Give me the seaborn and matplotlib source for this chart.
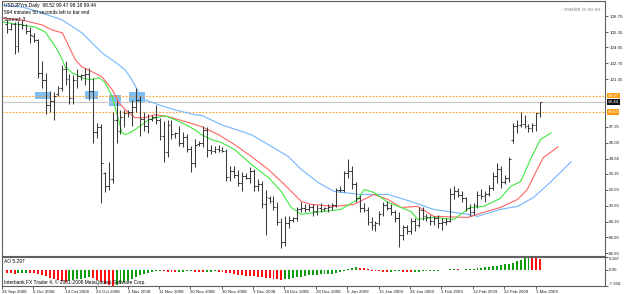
import numpy as np
import pandas as pd
import matplotlib
matplotlib.use('Agg')
import matplotlib.pyplot as plt
import seaborn as sns
from matplotlib import font_manager

"""USDJPY daily bars with alligator lines and the awesome oscillator, MT4 look"""

header_lines = ['USDJPYm,Daily  98.52 99.47 98.18 99.44',
                '594 minutes 50 seconds left to bar end',
                'Spread: 3']
mood_text = '- market is so-so -'
ao_title = 'AO 5.297'
footer_text = 'Interbank FX Trader 4, \u00a9 2001-2008 MetaQuotes Software Corp.'

bar_open = [106.0, 105.6, 106.0, 104.2, 106.0, 105.9, 105.4, 105.0, 104.7, 101.9,
            101.3, 99.2, 99.5, 100.1, 100.6, 102.2, 101.4, 99.8, 101.3, 101.6,
            101.7, 101.8, 100.4, 96.9, 97.3, 93.4, 92.3, 92.9, 97.9, 97.0,
            98.2, 98.5, 98.6, 99.0, 99.6, 98.0, 97.4, 98.0, 98.2, 97.9,
            96.6, 95.2, 97.5, 96.7, 96.8, 96.0, 96.5, 95.5, 94.3, 95.9,
            96.0, 97.1, 95.4, 95.3, 95.5, 95.4, 95.3, 93.1, 93.6, 93.3,
            92.6, 93.2, 93.0, 93.6, 92.3, 92.5, 90.8, 91.3, 91.1, 90.6,
            89.3, 87.6, 89.2, 89.5, 89.6, 90.4, 90.5, 90.4, 90.6, 90.2,
            90.5, 90.4, 90.5, 90.6, 90.7, 92.0, 92.0, 93.4, 93.6, 92.5,
            91.3, 90.5, 90.3, 89.3, 89.0, 89.2, 90.0, 90.7, 90.5, 90.1,
            89.6, 88.2, 88.9, 88.5, 89.4, 89.0, 90.3, 89.8, 89.7, 89.4,
            89.6, 89.2, 89.3, 89.4, 91.7, 91.9, 91.6, 91.3, 90.5, 90.1,
            90.7, 91.6, 91.5, 91.7, 92.2, 93.2, 93.8, 92.7, 93.0, 96.2,
            97.4, 97.5, 97.6, 97.4, 97.2, 97.5, 98.52]
bar_high = [106.4, 106.1, 106.2, 106.3, 106.4, 106.0, 105.8, 105.3, 104.8, 102.9,
            101.9, 100.4, 100.3, 100.8, 102.6, 102.9, 101.8, 101.7, 102.2, 101.8,
            102.3, 102.3, 101.5, 97.7, 97.6, 93.5, 94.4, 98.6, 99.5, 98.8,
            98.8, 98.8, 99.6, 100.6, 99.9, 98.6, 98.4, 98.3, 99.2, 98.1,
            97.8, 97.9, 97.9, 96.9, 97.4, 96.9, 96.7, 95.7, 96.3, 96.1,
            97.4, 97.3, 95.8, 95.7, 95.8, 95.6, 95.5, 94.0, 94.0, 93.7,
            93.5, 93.4, 93.9, 93.8, 92.9, 92.8, 92.0, 91.5, 91.5, 91.0,
            89.6, 89.8, 89.8, 89.7, 90.6, 91.0, 90.8, 90.8, 90.8, 90.7,
            90.9, 90.6, 90.8, 90.9, 92.2, 92.3, 93.6, 94.6, 94.0, 92.7,
            91.6, 90.9, 90.6, 89.7, 89.4, 90.2, 91.0, 91.1, 90.8, 90.3,
            90.1, 89.0, 89.0, 89.6, 89.6, 90.6, 90.6, 90.0, 89.9, 89.8,
            89.9, 89.6, 89.6, 92.2, 92.3, 92.2, 91.9, 91.4, 90.8, 90.9,
            91.9, 92.1, 91.9, 92.4, 93.5, 94.3, 94.0, 93.3, 94.8, 97.7,
            97.9, 98.6, 98.3, 97.6, 97.7, 98.5, 99.47]
bar_low = [105.3, 105.5, 103.5, 103.7, 105.6, 105.2, 104.4, 104.5, 101.5, 100.6,
           98.4, 98.6, 97.9, 99.9, 100.4, 100.9, 99.3, 99.3, 100.6, 101.3,
           100.9, 99.6, 96.0, 96.4, 90.9, 91.8, 92.0, 92.6, 96.0, 96.7,
           97.3, 98.2, 97.4, 98.6, 96.6, 97.0, 96.8, 97.8, 97.6, 96.2,
           94.4, 94.8, 96.3, 96.4, 95.7, 95.6, 95.2, 93.5, 93.9, 95.7,
           95.6, 94.8, 95.0, 95.1, 95.2, 95.2, 92.8, 92.8, 93.0, 92.3,
           91.9, 92.9, 92.6, 91.9, 91.9, 90.5, 88.2, 90.9, 90.3, 89.0,
           87.1, 87.3, 88.8, 89.3, 89.4, 90.1, 90.1, 90.2, 89.8, 89.9,
           90.1, 90.2, 90.1, 90.3, 90.6, 91.8, 91.8, 93.0, 92.1, 91.0,
           90.1, 90.1, 89.0, 88.6, 88.5, 89.0, 89.8, 90.3, 89.9, 89.3,
           87.2, 87.8, 88.3, 88.3, 88.5, 88.9, 89.5, 89.4, 89.0, 89.0,
           88.8, 88.6, 89.0, 89.3, 91.2, 91.4, 91.0, 90.2, 89.8, 89.9,
           90.5, 91.2, 91.0, 91.5, 92.0, 92.6, 92.2, 92.5, 92.7, 96.0,
           96.8, 97.3, 97.2, 96.9, 96.9, 97.0, 98.18]
bar_close = [105.6, 106.0, 104.2, 106.0, 105.9, 105.4, 105.1, 104.7, 101.9, 101.3,
             99.2, 99.5, 99.9, 100.6, 102.2, 101.4, 99.8, 101.3, 101.6, 101.7,
             101.8, 100.4, 96.9, 97.3, 94.3, 92.3, 92.9, 97.9, 97.0, 98.2,
             98.5, 98.6, 99.0, 99.6, 98.0, 97.4, 98.0, 98.2, 97.9, 96.6,
             95.2, 97.5, 96.7, 96.8, 96.0, 96.5, 95.5, 94.3, 95.8, 96.0,
             97.1, 95.4, 95.3, 95.5, 95.4, 95.3, 93.1, 93.6, 93.3, 92.6,
             93.2, 93.0, 93.6, 92.3, 92.5, 90.8, 91.4, 91.1, 90.6, 89.3,
             87.6, 89.2, 89.5, 89.6, 90.4, 90.5, 90.4, 90.6, 90.2, 90.5,
             90.4, 90.5, 90.6, 90.7, 92.0, 92.0, 93.4, 93.6, 92.5, 91.3,
             90.5, 90.3, 89.3, 89.0, 89.2, 90.0, 90.7, 90.5, 90.1, 89.6,
             88.2, 88.9, 88.5, 89.4, 89.0, 90.3, 89.8, 89.7, 89.4, 89.6,
             89.2, 89.3, 89.4, 91.7, 91.9, 91.6, 91.3, 90.5, 90.1, 90.7,
             91.6, 91.5, 91.7, 92.2, 93.2, 93.8, 92.7, 93.0, 94.6, 97.4,
             97.5, 97.6, 97.4, 97.2, 97.5, 98.5, 99.44]

# alligator lines, read as (bar number, price) points
lips_bar = [-1.1, 4.0, 7.3, 9.8, 11.6, 12.9, 14.2, 14.9, 16.7, 19.2,
            21.3, 23.6, 25.1, 26.9, 28.1, 29.4, 30.2, 31.9, 34.5, 36.2,
            40.3, 42.8, 44.6, 47.9, 49.7, 52.2, 54.8, 58.1, 62.4, 66.7,
            70.0, 72.5, 75.1, 78.4, 85.2, 89.5, 91.1, 93.6, 97.2, 100.5,
            103.0, 104.8, 108.8, 113.9, 118.2, 121.5, 125.8, 128.4, 131.0, 133.5,
            136.0, 138.8]
lips_price = [106.19, 105.94, 105.77, 105.35, 104.51, 103.84, 102.99, 102.40, 101.90, 101.48,
              101.31, 101.48, 101.06, 99.88, 98.40, 96.84, 96.67, 96.93, 97.52, 97.94,
              98.28, 97.94, 97.69, 97.10, 96.67, 96.25, 96.00, 95.41, 94.15, 93.05,
              91.87, 90.52, 89.94, 90.10, 90.36, 91.20, 92.04, 91.79, 90.95, 90.52,
              90.19, 89.51, 89.68, 89.51, 90.52, 90.61, 91.28, 92.29, 92.72, 94.57,
              96.25, 96.84]
teeth_bar = [-1.1, 4.0, 9.1, 11.6, 14.2, 15.9, 17.5, 19.2, 21.8, 24.3,
             26.9, 28.6, 30.2, 32.7, 35.2, 37.8, 41.3, 46.4, 49.7, 54.0,
             58.1, 62.4, 66.7, 70.8, 73.3, 75.1, 77.6, 83.5, 88.5, 92.1,
             93.6, 97.2, 100.5, 104.8, 108.8, 117.5, 121.5, 125.8, 130.2, 132.7,
             134.3, 136.8, 140.6]
teeth_price = [106.53, 106.36, 105.94, 105.52, 105.27, 104.09, 102.99, 102.40, 101.98, 101.56,
               100.47, 99.37, 98.78, 98.11, 98.11, 98.36, 98.19, 97.69, 97.35, 96.67,
               95.83, 94.82, 93.73, 92.46, 91.62, 91.03, 90.78, 90.61, 90.78, 91.37,
               91.62, 91.20, 90.52, 90.61, 89.77, 89.68, 90.10, 90.52, 91.20, 92.04,
               93.14, 94.74, 95.66]
jaw_bar = [-1.1, 4.0, 9.1, 14.2, 19.2, 24.3, 27.6, 30.2, 31.9, 33.7,
           35.2, 38.8, 42.8, 47.9, 49.7, 54.8, 62.4, 66.7, 71.8, 75.1,
           79.4, 83.5, 90.3, 97.2, 103.0, 108.8, 117.5, 120.0, 125.8, 130.2,
           134.3, 138.5, 143.9]
jaw_price = [107.63, 107.46, 106.95, 106.36, 105.27, 103.58, 102.82, 102.15, 101.31, 100.21,
             99.62, 99.20, 98.78, 98.36, 98.30, 97.50, 96.67, 95.83, 94.82, 93.73,
             92.63, 91.87, 91.62, 91.62, 91.03, 90.36, 89.94, 89.77, 90.36, 90.61,
             91.37, 92.63, 94.40]

ao_values = [-1.6, -1.7, -1.9, -1.8, -1.7, -1.6, -1.7, -1.8, -2.0,
             -2.6, -3.3, -4.0, -4.6, -5.1, -5.5, -5.8,
             -5.4, -5.0, -4.7, -4.3, -4.0, -3.6,
             -3.9, -4.8, -5.9, -6.8, -7.5, -7.958,
             -7.6, -7.0, -6.2, -5.3, -4.4, -3.5, -2.7, -2.0, -1.5, -1.1, -0.8, -0.6,
             -0.7, -0.9, -1.0, -1.1, -1.0, -0.9, -0.8, -0.7, -0.9, -1.0, -1.1, -1.0, -0.9, -0.8, -0.9,
             -1.1, -1.4, -1.8, -2.1, -2.4, -2.7, -2.9, -3.1, -3.3, -3.5, -3.8, -4.0, -4.2, -4.4, -4.6, -4.8,
             -4.6, -4.3, -4.0, -3.7, -3.4, -3.1, -2.8, -2.6, -2.4,
             -2.2, -2.1, -2.0, -1.9, -1.6, -1.2, -0.6,
             0.3, 0.8, 1.2, 1.0, 0.6, 0.3, -0.4,
             -0.6, -0.8, -0.9, -1.0, -0.9, -0.8, -0.7, -0.9, -1.1, -1.2, -1.1, -1.0, -0.8, -0.7,
             -0.6, -0.5, -0.4, -0.35, -0.3, 0.3, 0.4, 0.3, -0.3, 0.3,
             0.4, 0.5, 0.8, 1.0, 1.2, 1.4, 1.7, 2.0, 2.3, 2.6, 3.0, 3.5, 4.1, 4.8, 5.5, 6.187,
             5.9, 5.6, 5.297]

date_labels = ['26 Sep 2008', '6 Oct 2008', '14 Oct 2008', '23 Oct 2008', '2 Nov 2008',
               '11 Nov 2008', '20 Nov 2008', '30 Nov 2008', '9 Dec 2008', '18 Dec 2008',
               '28 Dec 2008', '6 Jan 2009', '15 Jan 2009', '26 Jan 2009', '3 Feb 2009',
               '12 Feb 2009', '22 Feb 2009', '3 Mar 2009']
price_ticks = [106.70, 105.35, 104.05, 102.70, 101.35, 97.35, 96.00, 94.65,
               93.35, 92.00, 90.65, 89.30, 88.00, 86.65]
level_prices = [99.97, 98.60]
bid_price = 99.44
ao_ticks = [6.187, 0.0, -7.958]
# marked zones: first bar, last bar, bottom price, top price
zone_start = [7.3, 20.0, 26.1, 31.2]
zone_end = [11.4, 23.3, 29.1, 35.2]
zone_low = [99.69, 99.69, 99.10, 99.43]
zone_high = [100.28, 100.36, 100.03, 100.28]


def pick_font():
    names = {f.name for f in font_manager.fontManager.ttflist}
    if 'Liberation Sans Narrow' in names:
        return 'Liberation Sans Narrow', 1.0
    return 'Liberation Sans', 0.82


def main():
    sns.set_theme(style='white')
    font, k = pick_font()
    plt.rcParams['font.family'] = [font, 'DejaVu Sans']

    bars = pd.DataFrame({'open': bar_open, 'high': bar_high, 'low': bar_low, 'close': bar_close})
    bars['bar'] = np.arange(len(bars))
    lines = pd.concat([
        pd.DataFrame({'bar': jaw_bar, 'price': jaw_price, 'line': 'jaw'}),
        pd.DataFrame({'bar': teeth_bar, 'price': teeth_price, 'line': 'teeth'}),
        pd.DataFrame({'bar': lips_bar, 'price': lips_price, 'line': 'lips'}),
    ])
    ao = pd.Series(ao_values)
    ao_colors = np.where(ao.diff().fillna(0) > 0, '#109c10', '#ff1010')

    fig = plt.figure(figsize=(6.25, 2.94), dpi=100)
    fig.patch.set_facecolor('white')
    ax = fig.add_axes([2 / 625, 1 - 256 / 294, 603 / 625, 255 / 294])
    ax_ao = fig.add_axes([2 / 625, 1 - 286 / 294, 603 / 625, 29 / 294], sharex=ax)

    # zones behind everything
    for s, e, lo, hi in zip(zone_start, zone_end, zone_low, zone_high):
        ax.fill_between([s, e], lo, hi, color='#80bff2', lw=0, zorder=1)

    ax.axhline(bid_price, color='#c8c8c8', lw=0.8, zorder=1)
    for lvl in level_prices:
        ax.axhline(lvl, color='#ffa020', lw=0.8, ls=(0, (1.5, 1.5)), zorder=1)

    sns.lineplot(data=lines, x='bar', y='price', hue='line', sort=False, estimator=None,
                 palette={'jaw': '#72b6ff', 'teeth': '#ff6464', 'lips': '#3fe83f'},
                 legend=False, lw=0.8, ax=ax, zorder=2)

    bar_color = '#3a3a3a'
    ax.vlines(bars['bar'], bars['low'], bars['high'], color=bar_color, lw=0.75, zorder=3)
    ax.hlines(bars['open'], bars['bar'] - 0.45, bars['bar'], color=bar_color, lw=0.75, zorder=3)
    ax.hlines(bars['close'], bars['bar'], bars['bar'] + 0.45, color=bar_color, lw=0.75, zorder=3)

    ax.set_xlim(-0.56, 152.5)
    ax.set_ylim(86.42, 107.97)
    ax.set_xlabel('')
    ax.set_ylabel('')
    ax.yaxis.tick_right()
    ax.set_yticks(price_ticks)
    ax.set_yticklabels([f'{p:.2f}' for p in price_ticks])
    ax.tick_params(axis='y', right=True, length=2, width=0.5, pad=1, labelsize=3.9 * k,
                   colors='#202020')
    ax.tick_params(axis='x', bottom=False, labelbottom=False)

    # price markers on the right scale
    ytr = ax.get_yaxis_transform()
    for lvl in level_prices:
        ax.text(1.0045, lvl, f'{lvl:.2f}', transform=ytr, fontsize=3.9 * k, color='white',
                va='center', ha='left', clip_on=False,
                bbox=dict(facecolor='#ff9a10', edgecolor='none', pad=0.5))
    ax.text(1.0045, bid_price, f'{bid_price:.2f}', transform=ytr, fontsize=3.9 * k, color='white',
            va='center', ha='left', clip_on=False,
            bbox=dict(facecolor='#101010', edgecolor='none', pad=0.5))

    for i, line in enumerate(header_lines):
        ax.text(0.003, 0.992 - i * 0.027, line, transform=ax.transAxes, fontsize=4.3 * k,
                color='black', va='top', ha='left')
    ax.text(0.997, 0.975, mood_text, transform=ax.transAxes, fontsize=4.6 * k,
            color='#8c8c8c', va='top', ha='right')

    # awesome oscillator
    ax_ao.bar(np.arange(len(ao)), ao, width=0.5, color=ao_colors, lw=0)
    ax_ao.set_ylim(-7.958, 6.187)
    ax_ao.yaxis.tick_right()
    ax_ao.set_yticks(ao_ticks)
    ax_ao.set_yticklabels(['6.187', '0.00', '-7.958'])
    labels = ax_ao.get_yticklabels()
    labels[0].set_va('top')
    labels[2].set_va('bottom')
    ax_ao.tick_params(axis='y', right=True, length=2, width=0.5, pad=1, labelsize=3.9 * k,
                      colors='#202020')
    ax_ao.set_xticks(np.arange(0, len(ao), 8) - 1.2)
    ax_ao.set_xticklabels(date_labels, ha='left')
    ax_ao.tick_params(axis='x', bottom=True, length=2, width=0.5, pad=1, labelsize=3.9 * k,
                      colors='#202020')
    ax_ao.text(0.003, 0.93, ao_title, transform=ax_ao.transAxes, fontsize=4.3 * k,
               color='black', va='top', ha='left')
    ax_ao.text(0.003, 0.05, footer_text, transform=ax_ao.transAxes, fontsize=4.3 * k,
               color='black', va='bottom', ha='left')
    ax_ao.set_xlabel('')

    for a in (ax, ax_ao):
        a.set_facecolor('white')
        for sp in a.spines.values():
            sp.set_color('#606060')
            sp.set_linewidth(0.8)

    fig.savefig('out.png', dpi=100, facecolor='white')
    plt.close(fig)


main()
